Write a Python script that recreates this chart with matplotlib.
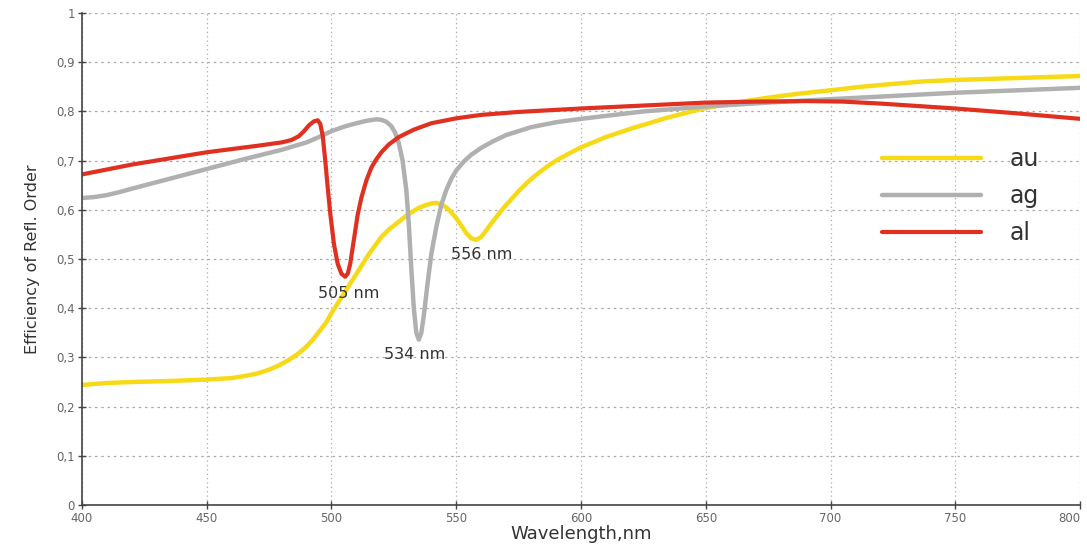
import matplotlib.pyplot as plt
from matplotlib.ticker import FuncFormatter

# wavelength (nm) / efficiency
au_wl = [400, 410, 420, 435, 450, 460, 465, 470, 475, 479, 483, 487, 490, 493, 495, 498,
         500, 503, 505, 508, 510, 513, 515, 518, 520, 523, 525, 528, 530, 533, 535, 538,
         540, 542, 544, 546, 548, 550, 552, 554, 556, 558, 560, 562, 564, 566, 568, 570,
         573, 575, 579, 583, 587, 590, 595, 600, 610, 620, 635, 650, 662, 675, 687, 700,
         712, 725, 737, 750, 775, 800]
au = [0.244, 0.248, 0.250, 0.252, 0.255, 0.258, 0.262, 0.267, 0.275, 0.284, 0.295, 0.309,
      0.322, 0.339, 0.352, 0.372, 0.390, 0.414, 0.430, 0.454, 0.470, 0.494, 0.510, 0.531,
      0.545, 0.560, 0.568, 0.580, 0.588, 0.598, 0.604, 0.610, 0.613, 0.614, 0.611, 0.605,
      0.595, 0.583, 0.568, 0.553, 0.542, 0.539, 0.545, 0.558, 0.572, 0.585, 0.598, 0.610,
      0.627, 0.638, 0.658, 0.675, 0.690, 0.700, 0.714, 0.727, 0.748, 0.765, 0.788, 0.807,
      0.818, 0.828, 0.836, 0.843, 0.850, 0.856, 0.861, 0.864, 0.868, 0.872]

ag_wl = [400, 405, 410, 415, 420, 435, 450, 465, 480, 490, 495, 500, 505, 510, 514, 518,
         520, 522, 524, 525.5, 527, 528.5, 530, 531, 532, 533, 534, 535, 536, 537, 538.5,
         540, 542, 544, 546, 548, 550, 553, 556, 560, 565, 570, 580, 590, 600, 625, 650,
         675, 700, 750, 800]
ag = [0.624, 0.626, 0.630, 0.636, 0.643, 0.663, 0.683, 0.703, 0.722, 0.737, 0.748, 0.760,
      0.769, 0.776, 0.781, 0.784, 0.783, 0.779, 0.770, 0.757, 0.735, 0.700, 0.640, 0.570,
      0.480, 0.400, 0.350, 0.336, 0.350, 0.385, 0.450, 0.510, 0.565, 0.610, 0.640, 0.663,
      0.680, 0.698, 0.712, 0.726, 0.740, 0.752, 0.768, 0.778, 0.785, 0.800, 0.810, 0.818,
      0.825, 0.838, 0.848]

al_wl = [400, 420, 450, 470, 480, 484, 487, 489, 491, 493, 494.5, 495.5, 496.5, 497.5,
         498.5, 499.5, 501, 502.5, 504, 505.5, 506.5, 507.5, 509, 510.5, 512, 514, 516,
         518, 520, 523, 527, 533, 540, 550, 560, 575, 600, 625, 650, 670, 690, 705, 720,
         735, 750, 775, 800]
al = [0.672, 0.692, 0.717, 0.730, 0.737, 0.742, 0.750, 0.760, 0.772, 0.780, 0.782, 0.775,
      0.750, 0.700, 0.645, 0.593, 0.530, 0.490, 0.470, 0.464, 0.470, 0.490, 0.540, 0.590,
      0.625, 0.660, 0.686, 0.703, 0.717, 0.733, 0.748, 0.763, 0.776, 0.786, 0.793, 0.799,
      0.806, 0.812, 0.818, 0.820, 0.821, 0.820, 0.816, 0.811, 0.806, 0.796, 0.785]

labels = ['505 nm', '534 nm', '556 nm']
label_pos = [(507, 0.43), (533.5, 0.305), (560, 0.51)]

fig = plt.figure(figsize=(10.87, 5.44), dpi=100)
ax = fig.add_axes([0.0754, 0.0717, 0.9182, 0.9043])

style = dict(solid_capstyle='round', solid_joinstyle='round')
ax.plot(au_wl, au, color='#F7DA17', lw=3.2, label='au', **style)
ax.plot(ag_wl, ag, color='#B0B0B0', lw=3.2, label='ag', **style)
ax.plot(al_wl, al, color='#E03020', lw=3.0, label='al', **style)

for txt, (x, y) in zip(labels, label_pos):
    ax.text(x, y, txt, fontsize=11.5, color='#333333', ha='center', va='center')

ax.set_xlim(400, 800)
ax.set_ylim(0, 1)
ax.set_xticks(range(400, 801, 50))
ax.set_yticks([i / 10 for i in range(11)])
ax.yaxis.set_major_formatter(FuncFormatter(
    lambda v, p: '%g' % round(v, 1) if v in (0, 1) else ('%.1f' % v).replace('.', ',')))
ax.tick_params(direction='inout', length=6, width=1, color='#444444',
               labelcolor='#666666', labelsize=8.5, pad=2)
ax.get_xticklabels()[-1].set_horizontalalignment('right')
ax.grid(True, axis='x', color='#aaaaaa', linestyle=(0, (1, 2.5)), linewidth=0.9)
ax.grid(True, axis='y', color='#aaaaaa', linestyle=(0, (2, 3)), linewidth=0.9)

for s in ['top', 'right']:
    ax.spines[s].set_visible(False)
for s in ['left', 'bottom']:
    ax.spines[s].set_color('#444444')
    ax.spines[s].set_linewidth(1.2)

ax.set_xlabel('Wavelength,nm', fontsize=13, color='#333333', labelpad=0)
ax.set_ylabel('Efficiency of Refl. Order', fontsize=11.5, color='#333333', labelpad=12)

leg = ax.legend(loc='upper left', bbox_to_anchor=(0.78, 0.77), frameon=False, fontsize=17,
                handlelength=4.2, handletextpad=1.2, labelspacing=0.55)
for t in leg.get_texts():
    t.set_color('#333333')

fig.savefig('out.png', dpi=100)
